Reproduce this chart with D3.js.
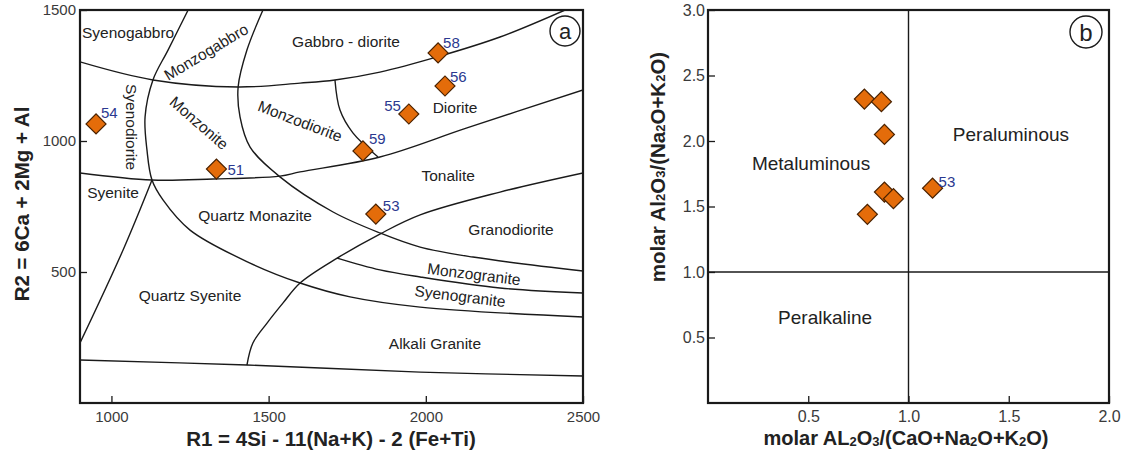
<!DOCTYPE html>
<html><head><meta charset="utf-8">
<script src="https://cdn.jsdelivr.net/npm/d3@7"></script>
<style>body{margin:0;background:#fff} text{font-family:Arial,"Liberation Sans",sans-serif}</style>
</head><body><svg id="c" width="1121" height="454"></svg>
<script>
// ---------- Panel a data (R1-R2 diagram) ----------
const sampleIds = ["54","51","58","56","55","59","53"];
const r1Values = [951,1334,2039,2061,1946,1800,1841];
const r2Values = [1065,893,1336,1210,1103,962,721];
const aTicksX = [1000,1500,2000,2500];
const aTicksY = [500,1000,1500];

// field boundaries [R1, R2]
const bGabbroDiorite = [[900,1302],[1132,1233],[1403,1206],[1600,1221],[1711,1233],[1854,1263],[2036,1321],[2236,1397],[2443,1500]];
const bTonaliteTop = [[900,878],[1129,851],[1323,855],[1536,866],[1600,882],[1854,939],[2131,1050],[2500,1195]];
const bSyenoCurve = [[1244,1500],[1180,1347],[1132,1233],[1107,1092],[1113,966],[1129,851],[1164,775],[1250,660],[1441,534],[1600,458],[1759,405],[1982,366],[2500,328]];
const bMonzoCurve = [[1482,1500],[1431,1347],[1403,1206],[1409,1092],[1441,977],[1536,863],[1705,729],[1854,649],[1982,595],[2150,557],[2500,504]];
const bDioriteCurve = [[1711,1233],[1727,1118],[1768,1031],[1848,939]];
const bGranodiorite = [[1431,145],[1450,229],[1495,305],[1546,382],[1600,458],[1718,553],[1854,645],[1982,718],[2236,805],[2500,878]];
const bSyenogranite = [[1718,553],[1854,508],[1982,481],[2236,439],[2500,420]];
const bBottom = [[900,164],[1431,145],[1982,118],[2500,103]];
const bQzSyenite = [[1129,851],[1037,584],[900,229]];
const aBoundaries = [bGabbroDiorite,bTonaliteTop,bSyenoCurve,bMonzoCurve,bDioriteCurve,bGranodiorite,bSyenogranite,bBottom,bQzSyenite];

const fieldNames = ["Syenogabbro","Monzogabbro","Gabbro - diorite","Syenodiorite","Monzonite","Monzodiorite","Diorite","Tonalite","Syenite","Quartz Monazite","Granodiorite","Monzogranite","Syenogranite","Quartz Syenite","Alkali Granite"];
const fieldR1 = [1053,1301,1746,1065,1279,1600,2093,2071,1005,1457,2271,2153,2109,1250,2029];
const fieldR2 = [1416,1340,1378,1053,1069,1076,1126,870,805,714,664,492,408,412,229];
const fieldAngle = [0,-31,0,90,41,21,0,0,0,0,0,7,7,0,0];

// ---------- Panel b data (A/CNK - A/NK) ----------
const acnkValues = [0.78,0.865,0.88,0.88,0.925,0.795,1.12];
const ankValues = [2.32,2.30,2.05,1.61,1.56,1.44,1.64];
const bPointLabels = ["","","","","","","53"];
const bTicksX = [0.5,1.0,1.5,2.0];
const bTicksY = [0.5,1.0,1.5,2.0,2.5,3.0];
const bFieldNames = ["Metaluminous","Peraluminous","Peralkaline"];
const bFieldX = [0.514,1.511,0.584];
const bFieldY = [1.832,2.046,0.649];

// label offsets (px) for sample numbers
const aLabelDx = [5,11,5,5,-8,6,7];
const aLabelDy = [-11,0,-10,-9,-9,-12,-9];

const svg = d3.select("#c");
const ink = "#1a1a1a";
const tickCol = "#3a3a3a";
const numCol = "#2b3990";
const dFill = "#e46c0a", dStroke = "#4a2200";
const diamond = d3.symbol(d3.symbolSquare, 200);

// ===== Panel a =====
const xA = d3.scaleLinear().domain([900,2500]).range([80,583]);
const yA = d3.scaleLinear().domain([0,1500]).range([403,10]);

svg.append("clipPath").attr("id","clipA").append("rect")
  .attr("x",80).attr("y",10).attr("width",503).attr("height",393);

const lineA = d3.line().x(d=>xA(d[0])).y(d=>yA(d[1])).curve(d3.curveCatmullRom.alpha(0.5));
const gA = svg.append("g");
gA.append("g").attr("clip-path","url(#clipA)").selectAll("path").data(aBoundaries).join("path")
  .attr("d",lineA).attr("fill","none").attr("stroke",ink).attr("stroke-width",1.4);

// axes
const axAx = d3.axisBottom(xA).tickValues(aTicksX).tickSizeInner(-7).tickSizeOuter(0).tickPadding(8).tickFormat(d3.format("d"));
const axAy = d3.axisLeft(yA).tickValues(aTicksY).tickSizeInner(-7).tickSizeOuter(0).tickPadding(4).tickFormat(d3.format("d"));
const gax = gA.append("g").attr("transform","translate(0,403)").call(axAx);
const gay = gA.append("g").attr("transform","translate(80,0)").call(axAy);
[gax,gay].forEach(g=>{
  g.select(".domain").remove();
  g.selectAll(".tick line").attr("stroke",ink).attr("stroke-width",1.3);
  g.selectAll(".tick text").attr("fill",tickCol).style("font-size","15px").style("font-family","Arial,'Liberation Sans',sans-serif");
});
gay.selectAll(".tick text").attr("x",-4);
gA.append("rect").attr("x",80).attr("y",10).attr("width",503).attr("height",393)
  .attr("fill","none").attr("stroke",ink).attr("stroke-width",2.2);

// field labels
gA.selectAll("text.field").data(fieldNames).join("text").attr("class","field")
  .attr("transform",(d,i)=>`translate(${xA(fieldR1[i])},${yA(fieldR2[i])}) rotate(${fieldAngle[i]})`)
  .attr("text-anchor","middle").attr("dominant-baseline","central")
  .attr("fill","#222").style("font-size","15.5px").text(d=>d);

// points
gA.selectAll("path.pt").data(sampleIds).join("path").attr("class","pt")
  .attr("d",diamond).attr("transform",(d,i)=>`translate(${xA(r1Values[i])},${yA(r2Values[i])}) rotate(45)`)
  .attr("fill",dFill).attr("stroke",dStroke).attr("stroke-width",1.2);
gA.selectAll("text.num").data(sampleIds).join("text").attr("class","num")
  .attr("x",(d,i)=>xA(r1Values[i])+aLabelDx[i]).attr("y",(d,i)=>yA(r2Values[i])+aLabelDy[i])
  .attr("text-anchor",(d,i)=>aLabelDx[i]<0?"end":"start").attr("dominant-baseline","central")
  .attr("fill",numCol).style("font-size","15px").text(d=>d);

// panel letter
gA.append("circle").attr("cx",565).attr("cy",31).attr("r",15).attr("fill","#fff").attr("stroke",ink).attr("stroke-width",1.4);
gA.append("text").attr("x",565).attr("y",31).attr("text-anchor","middle").attr("dominant-baseline","central").style("font-size","22px").attr("fill","#222").text("a");

// axis titles
gA.append("text").attr("x",331).attr("y",438).attr("text-anchor","middle").attr("dominant-baseline","central")
  .style("font-size","20.5px").style("font-weight","bold").attr("fill","#222").text("R1 = 4Si - 11(Na+K) - 2 (Fe+Ti)");
gA.append("text").attr("transform","translate(21,204) rotate(-90)").attr("text-anchor","middle").attr("dominant-baseline","central")
  .style("font-size","20.5px").style("font-weight","bold").attr("fill","#222").text("R2 = 6Ca + 2Mg + Al");

// ===== Panel b =====
const xB = d3.scaleLinear().domain([0,2]).range([708,1109]);
const yB = d3.scaleLinear().domain([0,3]).range([403,10]);
const gB = svg.append("g");
gB.append("line").attr("x1",xB(1)).attr("x2",xB(1)).attr("y1",yB(0)).attr("y2",yB(3)).attr("stroke",ink).attr("stroke-width",1.4);
gB.append("line").attr("x1",xB(0)).attr("x2",xB(2)).attr("y1",yB(1)).attr("y2",yB(1)).attr("stroke",ink).attr("stroke-width",1.4);

const axBx = d3.axisBottom(xB).tickValues(bTicksX).tickSizeInner(-7).tickSizeOuter(0).tickPadding(8).tickFormat(d3.format(".1f"));
const axBy = d3.axisLeft(yB).tickValues(bTicksY).tickSizeInner(-7).tickSizeOuter(0).tickPadding(4).tickFormat(d3.format(".1f"));
const gbx = gB.append("g").attr("transform","translate(0,403)").call(axBx);
const gby = gB.append("g").attr("transform","translate(708,0)").call(axBy);
[gbx,gby].forEach(g=>{
  g.select(".domain").remove();
  g.selectAll(".tick line").attr("stroke",ink).attr("stroke-width",1.3);
  g.selectAll(".tick text").attr("fill",tickCol).style("font-size","16px").style("font-family","Arial,'Liberation Sans',sans-serif");
});
gby.selectAll(".tick text").attr("x",-3);
gB.append("rect").attr("x",708).attr("y",10).attr("width",401).attr("height",393)
  .attr("fill","none").attr("stroke",ink).attr("stroke-width",2.2);

gB.selectAll("text.field").data(bFieldNames).join("text").attr("class","field")
  .attr("x",(d,i)=>xB(bFieldX[i])).attr("y",(d,i)=>yB(bFieldY[i]))
  .attr("text-anchor","middle").attr("dominant-baseline","central")
  .attr("fill","#222").style("font-size","19px").text(d=>d);

gB.selectAll("path.pt").data(acnkValues).join("path").attr("class","pt")
  .attr("d",diamond).attr("transform",(d,i)=>`translate(${xB(acnkValues[i])},${yB(ankValues[i])}) rotate(45)`)
  .attr("fill",dFill).attr("stroke",dStroke).attr("stroke-width",1.2);
gB.selectAll("text.num").data(bPointLabels).join("text").attr("class","num")
  .attr("x",(d,i)=>xB(acnkValues[i])+6).attr("y",(d,i)=>yB(ankValues[i])-7)
  .attr("dominant-baseline","central").attr("fill",numCol).style("font-size","15px").text(d=>d);

gB.append("circle").attr("cx",1086).attr("cy",32).attr("r",16).attr("fill","#fff").attr("stroke",ink).attr("stroke-width",1.4);
gB.append("text").attr("x",1086).attr("y",32).attr("text-anchor","middle").attr("dominant-baseline","central").style("font-size","24px").attr("fill","#222").text("b");

// axis titles with subscripts
function subTitle(sel, parts){
  parts.forEach(p=>{
    if(p[1]) sel.append("tspan").attr("baseline-shift","-30%").style("font-size","13px").text(p[0]);
    else sel.append("tspan").text(p[0]);
  });
}
const tBx = gB.append("text").attr("x",906).attr("y",438).attr("text-anchor","middle").attr("dominant-baseline","central")
  .style("font-size","20px").style("font-weight","bold").attr("fill","#222");
subTitle(tBx,[["molar AL"],["2",1],["O"],["3",1],["/(CaO+Na"],["2",1],["O+K"],["2",1],["O)"]]);
const tBy = gB.append("text").attr("transform","translate(657,167) rotate(-90)").attr("text-anchor","middle").attr("dominant-baseline","central")
  .style("font-size","20.5px").style("font-weight","bold").attr("fill","#222");
subTitle(tBy,[["molar Al"],["2",1],["O"],["3",1],["/(Na"],["2",1],["O+K"],["2",1],["O)"]]);
</script></body></html>
